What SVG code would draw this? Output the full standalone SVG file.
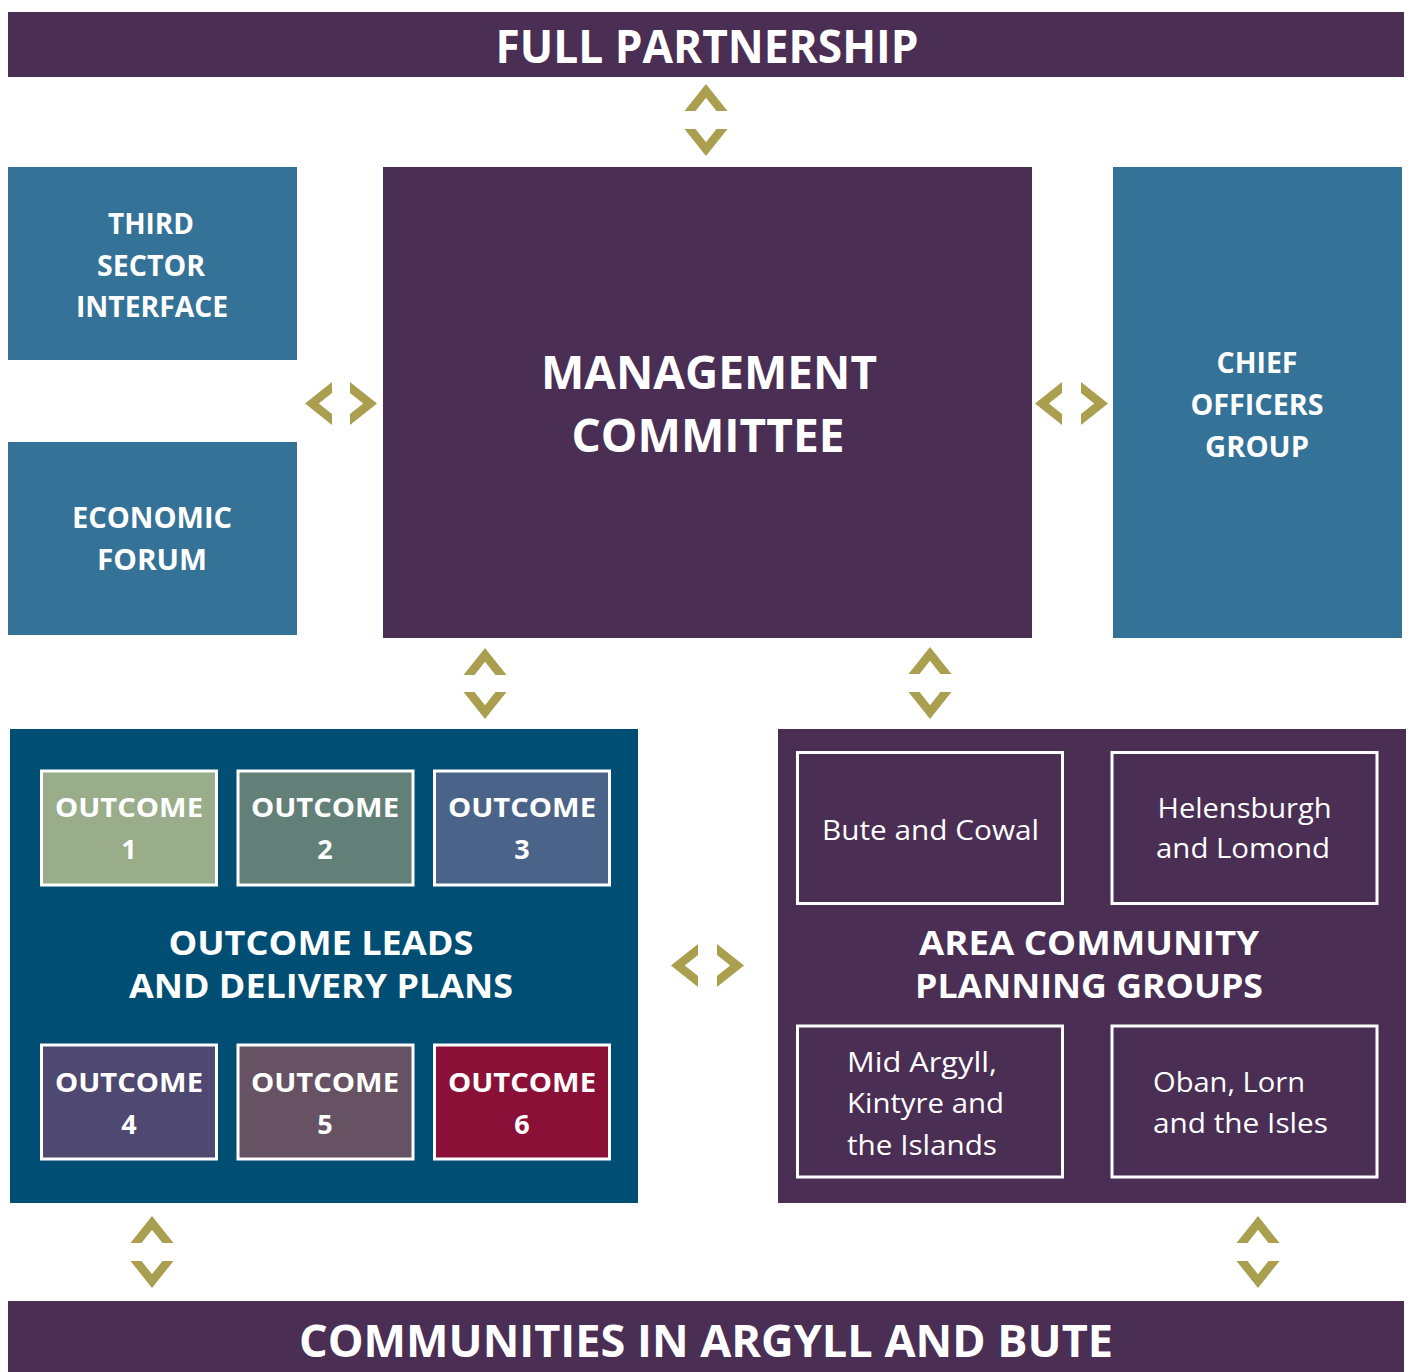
<svg xmlns="http://www.w3.org/2000/svg" xmlns:xlink="http://www.w3.org/1999/xlink" width="1410" height="1372" viewBox="0 0 1410 1372">
<style>
.purple{fill:#4a2e54}
.blue{fill:#357298}
.panel{fill:#004e73}
.ob{stroke:#ffffff;stroke-width:3}
.rb{fill:none;stroke:#ffffff;stroke-width:3}
text{font-family:"Open Sans","Liberation Sans",sans-serif;fill:#ffffff;text-anchor:middle}
.b{font-weight:bold}
.r{font-weight:normal;font-size:28px}
.l{text-anchor:start}
.chev{fill:#a99f4f}
</style>
<defs>
<path id="up" d="M-21.5 27 L0 0 L21.5 27 L10.5 27 L0 13.8 L-10.5 27 Z"/>
<path id="down" d="M-21.5 0 L-10.5 0 L0 13.2 L10.5 0 L21.5 0 L0 27 Z"/>
<path id="left" d="M27 -21.5 L0 0 L27 21.5 L27 10.5 L13.8 0 L27 -10.5 Z"/>
<path id="right" d="M-27 -21.5 L0 0 L-27 21.5 L-27 10.5 L-13.8 0 L-27 -10.5 Z"/>
</defs>
<rect width="1410" height="1372" fill="#ffffff"/>

<g id="full-partnership">
<rect class="purple" x="8" y="12" width="1396" height="65"/>
<text class="b" x="707" y="63" font-size="46" textLength="423" lengthAdjust="spacingAndGlyphs">FULL PARTNERSHIP</text>
</g>

<g id="third-sector">
<rect class="blue" x="8" y="167" width="289" height="193"/>
<text class="b" font-size="29" x="151" y="234" textLength="86" lengthAdjust="spacingAndGlyphs">THIRD</text>
<text class="b" font-size="29" x="151" y="276" textLength="108" lengthAdjust="spacingAndGlyphs">SECTOR</text>
<text class="b" font-size="29" x="152" y="317" textLength="152" lengthAdjust="spacingAndGlyphs">INTERFACE</text>
</g>

<g id="economic-forum">
<rect class="blue" x="8" y="442" width="289" height="193"/>
<text class="b" font-size="29" x="152" y="528" textLength="160" lengthAdjust="spacingAndGlyphs">ECONOMIC</text>
<text class="b" font-size="29" x="152" y="570" textLength="110" lengthAdjust="spacingAndGlyphs">FORUM</text>
</g>

<g id="management-committee">
<rect class="purple" x="383" y="167" width="649" height="471"/>
<text class="b" font-size="46" x="709" y="389" textLength="336" lengthAdjust="spacingAndGlyphs">MANAGEMENT</text>
<text class="b" font-size="46" x="708" y="452" textLength="273" lengthAdjust="spacingAndGlyphs">COMMITTEE</text>
</g>

<g id="chief-officers">
<rect class="blue" x="1113" y="167" width="289" height="471"/>
<text class="b" font-size="29" x="1257" y="373" textLength="81" lengthAdjust="spacingAndGlyphs">CHIEF</text>
<text class="b" font-size="29" x="1257" y="415" textLength="133" lengthAdjust="spacingAndGlyphs">OFFICERS</text>
<text class="b" font-size="29" x="1257" y="457" textLength="104" lengthAdjust="spacingAndGlyphs">GROUP</text>
</g>

<g id="outcome-leads">
<rect class="panel" x="10" y="729" width="628" height="474"/>
<text class="b" font-size="34" x="321" y="955" textLength="305" lengthAdjust="spacingAndGlyphs">OUTCOME LEADS</text>
<text class="b" font-size="34" x="321" y="998" textLength="384" lengthAdjust="spacingAndGlyphs">AND DELIVERY PLANS</text>
<g id="outcome-1">
<rect class="ob" x="41.5" y="771" width="175" height="114" fill="#99ad8a"/>
<text class="b" font-size="27" x="129" y="817" textLength="148" lengthAdjust="spacingAndGlyphs">OUTCOME</text>
<text class="b" font-size="27" x="129" y="859">1</text>
</g>
<g id="outcome-2">
<rect class="ob" x="238" y="771" width="175" height="114" fill="#627f78"/>
<text class="b" font-size="27" x="325" y="817" textLength="148" lengthAdjust="spacingAndGlyphs">OUTCOME</text>
<text class="b" font-size="27" x="325" y="859">2</text>
</g>
<g id="outcome-3">
<rect class="ob" x="434.5" y="771" width="175" height="114" fill="#4a6489"/>
<text class="b" font-size="27" x="522" y="817" textLength="148" lengthAdjust="spacingAndGlyphs">OUTCOME</text>
<text class="b" font-size="27" x="522" y="859">3</text>
</g>
<g id="outcome-4">
<rect class="ob" x="41.5" y="1045" width="175" height="114" fill="#4f4870"/>
<text class="b" font-size="27" x="129" y="1092" textLength="148" lengthAdjust="spacingAndGlyphs">OUTCOME</text>
<text class="b" font-size="27" x="129" y="1134">4</text>
</g>
<g id="outcome-5">
<rect class="ob" x="238" y="1045" width="175" height="114" fill="#665263"/>
<text class="b" font-size="27" x="325" y="1092" textLength="148" lengthAdjust="spacingAndGlyphs">OUTCOME</text>
<text class="b" font-size="27" x="325" y="1134">5</text>
</g>
<g id="outcome-6">
<rect class="ob" x="434.5" y="1045" width="175" height="114" fill="#8a1038"/>
<text class="b" font-size="27" x="522" y="1092" textLength="148" lengthAdjust="spacingAndGlyphs">OUTCOME</text>
<text class="b" font-size="27" x="522" y="1134">6</text>
</g>
</g>

<g id="area-community">
<rect class="purple" x="778" y="729" width="628" height="474"/>
<text class="b" font-size="34" x="1089" y="955" textLength="340" lengthAdjust="spacingAndGlyphs">AREA COMMUNITY</text>
<text class="b" font-size="34" x="1089" y="998" textLength="348" lengthAdjust="spacingAndGlyphs">PLANNING GROUPS</text>
<g id="bute-cowal">
<rect class="rb" x="797.5" y="752.5" width="265" height="151"/>
<text class="r" x="930.5" y="840" textLength="217" lengthAdjust="spacingAndGlyphs">Bute and Cowal</text>
</g>
<g id="helensburgh">
<rect class="rb" x="1112" y="752.5" width="265" height="151"/>
<text class="r" x="1244.5" y="818" textLength="174" lengthAdjust="spacingAndGlyphs">Helensburgh</text>
<text class="r" x="1243" y="858" textLength="174" lengthAdjust="spacingAndGlyphs">and Lomond</text>
</g>
<g id="mid-argyll">
<rect class="rb" x="797.5" y="1026" width="265" height="151"/>
<text class="r l" x="847" y="1072" textLength="150" lengthAdjust="spacingAndGlyphs">Mid Argyll,</text>
<text class="r l" x="847" y="1113" textLength="157" lengthAdjust="spacingAndGlyphs">Kintyre and</text>
<text class="r l" x="847" y="1155" textLength="150" lengthAdjust="spacingAndGlyphs">the Islands</text>
</g>
<g id="oban-lorn">
<rect class="rb" x="1112" y="1026" width="265" height="151"/>
<text class="r l" x="1153" y="1092" textLength="152" lengthAdjust="spacingAndGlyphs">Oban, Lorn</text>
<text class="r l" x="1153" y="1133" textLength="175" lengthAdjust="spacingAndGlyphs">and the Isles</text>
</g>
</g>

<g id="communities">
<rect class="purple" x="8" y="1301" width="1396" height="71"/>
<text class="b" font-size="45" x="706" y="1357" textLength="814" lengthAdjust="spacingAndGlyphs">COMMUNITIES IN ARGYLL AND BUTE</text>
</g>

<g id="connectors" class="chev">
<use xlink:href="#up" x="706" y="84"/>
<use xlink:href="#down" x="706" y="129"/>
<use xlink:href="#left" x="305" y="403.5"/>
<use xlink:href="#right" x="377" y="403.5"/>
<use xlink:href="#left" x="1035" y="403.5"/>
<use xlink:href="#right" x="1108" y="403.5"/>
<use xlink:href="#up" x="485" y="648"/>
<use xlink:href="#down" x="485" y="692"/>
<use xlink:href="#up" x="930" y="647"/>
<use xlink:href="#down" x="930" y="692"/>
<use xlink:href="#left" x="671" y="965.5"/>
<use xlink:href="#right" x="744" y="965.5"/>
<use xlink:href="#up" x="152" y="1216"/>
<use xlink:href="#down" x="152" y="1261"/>
<use xlink:href="#up" x="1258" y="1216"/>
<use xlink:href="#down" x="1258" y="1261"/>
</g>
</svg>
